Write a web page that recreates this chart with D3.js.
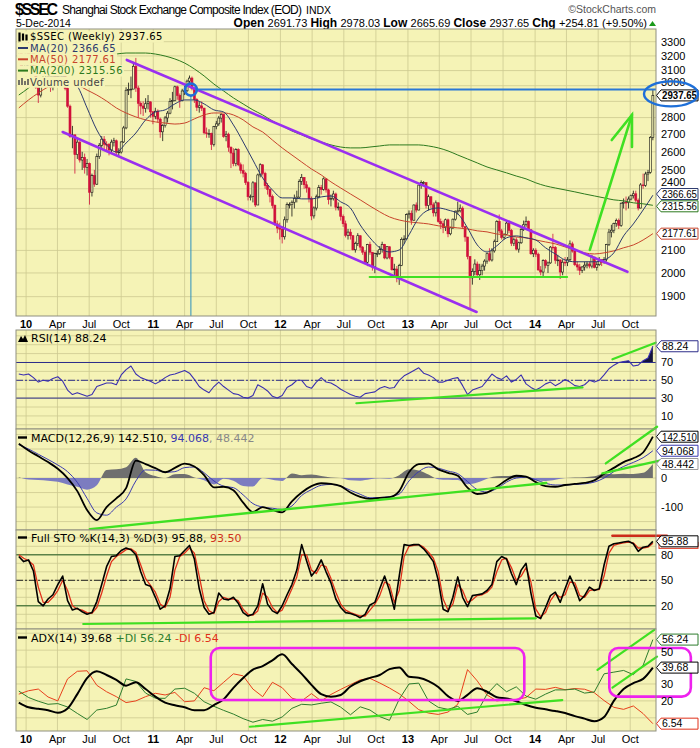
<!DOCTYPE html>
<html>
<head>
<meta charset="utf-8">
<script src="https://cdn.jsdelivr.net/npm/d3@7"></script>
<style>
  body { margin: 0; background: #ffffff; }
  svg { display: block; }
</style>
</head>
<body>
<svg id="chart" width="700" height="748"></svg>
<script>
// weekly $SSEC candles, 11-Dec-2009 .. 5-Dec-2014 (open taken as previous close)
const lastWeek = new Date(2014, 11, 5);
const firstOpen = 3240;
const closes = [3275,3114,3155,3277,
  3196,3224,3128,2989,2940,3018,3040,3051,3031,2988,3068,3060,3129,3131,3130,2983,2870,2688,2697,2584,2655,2554,2569,2514,2535,2382,2470,2424,2573,2637,2672,2643,2642,2610,2655,2663,2598,2599,2656,2738,2971,2975,2978,3129,2985,2888,2871,2857,2885,2897,2835,2808,
  2839,2791,2715,2752,2798,2827,2900,2905,2993,2937,2906,2966,2967,3030,3050,2983,2911,2863,2872,2858,2709,2705,2705,2642,2746,2762,2797,2820,2688,2701,2626,2593,2534,2612,2528,2497,2482,2433,2359,2359,2431,2317,2473,2528,2481,2416,2397,2360,2315,2224,2204,2199,
  2163,2244,2319,2319,2331,2351,2357,2439,2460,2421,2404,2349,2263,2302,2359,2406,2397,2452,2394,2344,2349,2373,2306,2307,2260,2225,2170,2185,2168,2103,2132,2168,2115,2092,2047,2127,2092,2026,2086,2086,2104,2128,2066,2117,2069,2014,2017,1980,2033,2151,2153,2269,
  2276,2242,2317,2292,2419,2432,2432,2314,2359,2318,2278,2328,2236,2225,2206,2244,2177,2205,2247,2286,2288,2301,2211,2162,2073,1979,2007,2039,1992,2010,2030,2052,2085,2057,2098,2140,2236,2191,2160,2174,2228,2193,2133,2149,2106,2135,2197,2220,2237,2196,2085,2101,
  2083,2013,2004,2054,2033,2044,2115,2113,2056,2057,2004,2047,2046,2058,2130,2097,2036,2026,2011,2026,2034,2039,2030,2070,2024,2036,2059,2047,2059,2127,2185,2194,2226,2240,2217,2326,2331,2329,2347,2364,2374,2341,2302,2420,2418,2478,2487,2683,2937.65];
const highs = [3300,3290,3170,3290,
  3306,3276,3240,3140,3050,3025,3060,3080,3100,3060,3080,3100,3140,3160,3181,3130,2990,2880,2750,2700,2680,2660,2600,2590,2560,2540,2480,2500,2590,2650,2690,2690,2660,2650,2670,2680,2670,2620,2660,2750,2990,3020,3060,3159,3186,3000,2900,2900,2920,2940,2900,2840,
  2860,2850,2800,2760,2810,2840,2920,2960,3000,3000,2950,2980,3000,3040,3067,3060,2990,2920,2900,2900,2860,2740,2730,2710,2750,2780,2810,2826,2820,2720,2710,2630,2620,2620,2620,2540,2530,2490,2440,2370,2440,2430,2480,2536,2530,2490,2430,2400,2370,2320,2240,2230,
  2210,2260,2330,2330,2340,2370,2390,2450,2478,2460,2440,2410,2360,2310,2370,2420,2420,2460,2453,2400,2370,2390,2380,2330,2310,2270,2240,2200,2200,2170,2140,2180,2170,2120,2100,2130,2140,2090,2090,2100,2120,2140,2130,2120,2110,2070,2040,2030,2040,2160,2170,2275,
  2290,2290,2320,2330,2420,2444,2440,2430,2370,2360,2330,2340,2330,2250,2240,2250,2250,2210,2250,2290,2334,2320,2310,2210,2150,2070,2020,2060,2050,2040,2040,2060,2090,2110,2110,2150,2242,2270,2200,2180,2240,2240,2200,2160,2160,2140,2210,2240,2260,2240,2200,2110,
  2110,2090,2030,2060,2060,2050,2120,2177,2120,2080,2060,2060,2070,2070,2146,2140,2100,2050,2040,2030,2050,2050,2050,2080,2070,2050,2070,2060,2070,2130,2200,2220,2230,2250,2250,2330,2350,2360,2360,2370,2390,2390,2350,2430,2480,2490,2500,2690,2978.03];
const lows = [3190,3100,3070,3150,
  3150,3100,3100,2980,2890,2925,3000,2990,3020,2960,2970,3020,3050,3090,3100,2970,2860,2680,2620,2480,2560,2540,2500,2480,2470,2319,2360,2410,2420,2560,2620,2610,2600,2580,2590,2630,2580,2570,2590,2650,2730,2940,2920,2980,2960,2800,2820,2810,2830,2850,2800,2760,
  2790,2770,2680,2661,2740,2770,2820,2850,2900,2910,2860,2900,2940,2960,3010,2970,2890,2840,2830,2840,2700,2680,2680,2610,2630,2730,2750,2770,2680,2660,2600,2510,2520,2520,2520,2480,2460,2420,2340,2340,2330,2307,2320,2460,2470,2400,2370,2330,2300,2215,2180,2150,
  2132,2150,2230,2300,2260,2300,2330,2350,2420,2400,2380,2330,2242,2250,2290,2350,2370,2390,2380,2320,2310,2340,2290,2290,2240,2210,2160,2150,2150,2100,2090,2120,2100,2080,2040,2030,2080,2010,1999,2070,2080,2090,2060,2060,2060,2010,1990,1960,1949,2030,2130,2150,
  2250,2220,2240,2280,2290,2400,2420,2300,2290,2300,2260,2260,2230,2200,2180,2190,2161,2170,2200,2240,2270,2280,2200,2140,2060,1849,1950,1990,1980,1970,1990,2010,2040,2050,2050,2090,2140,2180,2150,2150,2170,2180,2120,2120,2100,2090,2130,2190,2210,2190,2080,2070,
  2070,2010,1990,1984,2020,2000,2040,2100,2040,2030,1974,1990,2030,2030,2050,2090,2030,2010,1991,2000,2010,2020,2020,2020,2020,2010,2030,2030,2040,2050,2120,2160,2180,2210,2200,2210,2300,2290,2300,2340,2350,2330,2290,2300,2400,2410,2440,2480,2665.69];

// overlays and indicators read every 4 weeks
const ma20 = [3158,3131,3090,3064,3064,3050,2998,2859,2726,2639,2599,2650,2708,2786,2834,2847,2884,2909,2909,2884,2847,2834,2756,2656,2554,2457,2394,2353,2353,2348,2348,2358,2363,2333,2302,2219,2158,2112,2093,2102,2172,2253,2292,2302,2292,2273,2205,2125,2093,2121,2158,2167,2158,2148,2112,2084,2057,2049,2049,2049,2057,2089,2167,2224,2292,2366.65];
const ma50 = [2859,2909,2953,2992,3018,3024,3005,2972,2940,2902,2859,2828,2804,2786,2774,2767,2761,2767,2792,2816,2828,2828,2816,2786,2744,2714,2667,2622,2582,2543,2505,2473,2436,2404,2373,2343,2312,2283,2258,2243,2234,2229,2224,2215,2210,2205,2200,2191,2186,2176,2172,2162,2158,2148,2139,2130,2116,2102,2089,2084,2089,2098,2112,2125,2148,2177.61];
const ma200 = [2940,2985,3037,3084,3118,3145,3165,3186,3192,3206,3213,3220,3220,3220,3213,3199,3179,3151,3111,3064,3011,2966,2922,2884,2847,2816,2780,2750,2720,2697,2673,2656,2639,2627,2622,2622,2627,2633,2639,2639,2639,2639,2633,2622,2605,2582,2560,2538,2516,2500,2484,2467,2452,2431,2415,2404,2394,2384,2373,2363,2353,2343,2338,2328,2323,2315.56];
const macdLine = [118,95,75,55,32,0,-45,-110,-145,-100,-70,-35,60,48,34,20,35,50,40,10,-32,-30,-42,-85,-117,-100,-110,-118,-80,-50,-28,-18,-20,-28,-50,-65,-72,-68,-66,-45,20,48,50,30,18,8,-33,-55,-50,-30,-7,8,5,-14,-28,-30,-24,-20,-17,-8,15,35,55,68,88,142.51];
const macdSignal = [115,100,82,64,45,22,-15,-70,-120,-128,-100,-72,-10,28,27,20,22,36,38,18,-10,-28,-33,-58,-88,-100,-104,-108,-96,-60,-40,-25,-22,-28,-42,-56,-68,-67,-64,-55,-10,22,38,34,24,15,-12,-40,-48,-36,-14,0,3,-6,-18,-24,-24,-22,-20,-14,0,22,40,54,70,94.068];
const adx14 = [19,16.2,15.3,14.5,13,15.5,24,33.5,37.5,35.3,32.4,29,31,27,22.5,19,17.4,16.2,14.5,14.5,17.5,21,27.7,33.5,38.5,40.6,44,47.5,41.8,36,29.5,24,22.5,23.5,28.5,31.6,33.6,35.3,38.8,39.8,34.3,33.7,31.7,28.2,22.8,20,23.6,27.5,25.4,22.2,21.4,19.8,17.6,16,15,14,12.8,11,9.5,8,10.5,20,27,30.5,33,39.68];
const plusDI = [25.8,22,19.8,18,18.4,16.4,12.6,9,14.6,15.6,17.5,33,31.5,24.6,21.6,21.5,27,27.5,24.5,19.5,16.8,14.4,12.2,9.5,7.4,9,8,10.5,15.6,18,17.6,18.6,19.4,16.3,11.8,16.5,14.6,10.7,8.5,21,30,30.5,20,16.2,15,16.8,12,13.4,24,30.2,25.4,28.3,22.8,21,24,26.5,26.5,27,24.6,25.3,36,37,38,35.5,41,56.24];
const minusDI = [24,26,27,22.3,20,33,37.5,37.8,29.2,25.4,22.5,19,20,22.5,24.5,23.5,25,19.5,20,27.8,26,31,36,34.8,27,22.5,31,27.8,21.6,20,24.3,20,23.8,26.8,29.6,32.4,33.3,30.6,27.6,24.2,19.7,14.8,12.8,12,13.4,18,38.5,31.8,23.5,20,20.7,20.8,22,27,26.8,28,26.6,27.3,26.9,24.8,20.2,16.2,15,17,12.5,6.54];

// oscillators read every 2 weeks
const rsi14 = [57,56,57,53,48,50,49,52,54,49,39,34,36,34,32,34,43,45,47,47,45,56,62,66,57,53,51,49,46,49,53,56,57,59,61,58,51,43,39,36,43,48,43,39,35,34,31,30,33,45,42,38,32,30,33,42,45,50,50,43,41,48,53,48,47,44,40,37,34,32,31,35,36,37,41,43,41,42,50,55,58,61,64,58,56,53,48,48,50,52,53,44,34,39,41,43,50,57,53,51,55,48,51,56,46,42,39,42,46,48,44,47,51,48,44,43,45,50,48,50,56,63,67,70,71,72,66,67,72,75,88.24];
const stoK = [78,72,74,61,25,20,28,33,45,55,26,15,17,13,10,12,25,45,66,78,79,85,88,86,80,60,45,43,30,16,20,40,78,79,85,91,75,40,18,10,12,35,28,27,30,23,12,8,10,20,46,22,14,11,20,33,45,62,92,73,55,62,74,60,47,28,18,12,11,9,6,10,21,24,40,55,38,16,55,92,91,92,92,87,80,72,50,16,13,30,54,30,19,32,33,34,38,45,72,78,75,58,45,62,70,35,8,5,18,32,36,24,40,55,42,26,32,42,38,40,68,90,93,94,95,96,93,84,89,90,95.88];
const stoD = [80,76,73,68,42,24,24,30,38,50,38,20,16,15,12,11,18,35,55,72,78,82,86,87,83,68,52,44,36,22,18,30,62,78,82,88,82,55,26,14,11,25,30,28,28,26,16,10,9,14,35,30,18,12,15,27,40,54,80,80,62,58,68,66,52,36,22,15,12,10,8,8,15,22,32,48,45,24,38,78,90,91,92,89,83,76,60,28,15,22,45,38,24,27,32,33,36,42,60,74,76,65,50,55,65,48,16,7,12,26,34,30,33,48,47,32,30,38,39,39,55,82,91,93,94,95,94,88,88,89,93.5];

const priceTicks = [1900,2000,2100,2200,2300,2400,2500,2600,2700,2800,2900,3000,3100,3200,3300];
const rsiTicks = [10,30,50,70,90];
const macdTicks = [-100,0,100];
const stoTicks = [20,50,80];
const adxTicks = [10,20,30,40,50];
const monthNames = {3: "Apr", 6: "Jul", 9: "Oct"};

// hand-drawn annotations, [date, value]
const channelTop = [[new Date(2010,9,17),3172],[new Date(2014,8,23),2005]];
const channelBottom = [[new Date(2010,3,16),2714],[new Date(2013,6,17),1838]];
const support = [[new Date(2012,8,13),1983],[new Date(2014,3,3),1983]];
const breakDate = new Date(2011,3,19), breakLevel = 2975;
const arrowShaft = [[new Date(2014,5,7),2102],[new Date(2014,9,6),2816]];
const arrowHead = [[new Date(2014,7,9),2667],[new Date(2014,9,6),2816],[new Date(2014,9,6),2627]];
const rsiTrends = [[[new Date(2012,7,6),24.2],[new Date(2014,4,17),42.1]],[[new Date(2014,7,11),73.6],[new Date(2014,11,13),92.2]]];
const macdTrends = [[[new Date(2010,6,3),-176],[new Date(2014,1,2),-17]],[[new Date(2014,6,23),50.6],[new Date(2014,11,17),177]],[[new Date(2014,6,13),16],[new Date(2014,11,31),62]]];
const stoTrend = [[new Date(2010,5,14),-1.4],[new Date(2014,0,3),5.3]];
const stoTop = [[new Date(2014,7,11),102.5],[new Date(2015,0,14),102.5]];
const adxTrends = [[[new Date(2011,9,5),4.7],[new Date(2014,2,20),20.5]],[[new Date(2014,5,29),38.3],[new Date(2014,11,9),62]],[[new Date(2014,7,11),27.8],[new Date(2014,11,17),46.2]]];
const adxBoxes = [[new Date(2011,5,15),51.3,new Date(2013,11,1),20.5],[new Date(2014,7,2),51.3,new Date(2015,2,24),22.5]];

const svg = d3.select("#chart");
const L = 16, R = 656;
const bg = "#f5f3b6", gridC = "#cdc990";
const purple = "#9a2ef0", lime = "#3fe022", blue = "#2a78d6", magenta = "#ee22ee";
const sans = "'Liberation Sans', Arial, sans-serif", verd = "'DejaVu Sans', Verdana, sans-serif";

const x = d3.scaleTime().domain([new Date(2009,11,3), new Date(2014,11,14)]).range([L, R]);
const weekDates = closes.map((c, i) => d3.timeWeek.offset(lastWeek, i - closes.length + 1));
const every = arr => arr.map((v, i) => ({date: weekDates[Math.round(i * (closes.length - 1) / (arr.length - 1))], v}));
const quarters = d3.timeMonth.every(3).range(new Date(2010,0,1), new Date(2014,11,1));
const last = arr => arr[arr.length - 1];

const yP = d3.scaleLog().domain([1822, 3392]).range([316, 29]);
const yR = d3.scaleLinear().domain([-4.7, 106.5]).range([429, 330]);
const yM = d3.scaleLinear().domain([-179, 169]).range([530, 429]);
const yS = d3.scaleLinear().domain([-7.3, 109.2]).range([629, 530]);
const yA = d3.scaleLinear().domain([2.2, 62.5]).range([731, 629]);

function panel(id, y, grid) {
  const [y1, y0] = y.range();
  svg.append("rect").attr("x", L).attr("y", y0).attr("width", R - L).attr("height", y1 - y0).attr("fill", bg);
  svg.append("clipPath").attr("id", id).append("rect").attr("x", L).attr("y", y0).attr("width", R - L).attr("height", y1 - y0);
  const gg = svg.append("g").attr("stroke", gridC).attr("stroke-width", 0.8);
  gg.selectAll("line.v").data(quarters).join("line").attr("class", "v")
    .attr("x1", d => x(d)).attr("x2", d => x(d)).attr("y1", y0).attr("y2", y1);
  gg.selectAll("line.h").data(grid).join("line").attr("class", "h")
    .attr("x1", L).attr("x2", R).attr("y1", d => y(d)).attr("y2", d => y(d));
  return svg.append("g").attr("clip-path", `url(#${id})`);
}
function border(y) {
  const [y1, y0] = y.range();
  svg.append("rect").attr("x", L).attr("y", y0).attr("width", R - L).attr("height", y1 - y0)
    .attr("fill", "none").attr("stroke", "#8f8f80").attr("stroke-width", 1);
}
// tick labels sitting under a value tag are hidden, ones brushing a tag are nudged clear of it
function axisLabels(y, ticks, tagValues) {
  const items = [];
  ticks.forEach(t => {
    let pos = y(t), near = null;
    tagValues.forEach(v => { if (near === null || Math.abs(y(v) - pos) < Math.abs(near - pos)) near = y(v); });
    const dist = near === null ? 99 : Math.abs(near - pos);
    if (dist <= 6.2) return;
    if (dist < 13) pos += (pos < near ? -1 : 1) * (13 - dist);
    items.push({t, pos});
  });
  svg.append("g").selectAll("text").data(items).join("text")
    .attr("x", R + 5).attr("y", d => d.pos).attr("dy", "0.35em")
    .style("font-family", sans).style("font-size", "11px").text(d => d.t);
}
function seg(g, pts, y, color, w) {
  g.append("path").attr("d", d3.line().x(d => x(d[0])).y(d => y(d[1]))(pts))
    .attr("fill", "none").attr("stroke", color).attr("stroke-width", w).attr("stroke-linecap", "round");
}
function series(g, data, y, color, w, curve) {
  g.append("path").datum(data)
    .attr("d", d3.line().x(d => x(d.date)).y(d => y(d.v)).curve(curve || d3.curveLinear))
    .attr("fill", "none").attr("stroke", color).attr("stroke-width", w).attr("stroke-linejoin", "round");
}
function tag(yv, label, color, bold, shift) {
  const g = svg.append("g").attr("transform", `translate(${R},${yv + (shift || 0)})`);
  g.append("path").attr("d", "M0.5,0 L5,-5.5 L42,-5.5 L42,5.5 L5,5.5 Z")
    .attr("fill", "#fff").attr("stroke", color).attr("stroke-width", 1);
  const t = g.append("text").attr("x", 6).attr("y", 3.8).text(label)
    .style("font-family", sans).style("font-size", "10.5px").style("font-weight", bold ? "bold" : "normal");
  if (label.length >= 7) t.attr("textLength", 35).attr("lengthAdjust", "spacingAndGlyphs");
}
function dateRow(yBase) {
  svg.append("g").selectAll("text").data(quarters).join("text")
    .attr("x", d => x(d)).attr("y", yBase).attr("text-anchor", "middle")
    .style("font-family", sans).style("font-size", "11px")
    .style("font-weight", d => d.getMonth() === 0 ? "bold" : "normal")
    .text(d => d.getMonth() === 0 ? d3.timeFormat("%y")(d) : monthNames[d.getMonth()]);
}
function legendLine(g, xx, yy, label, color) {
  const t = g.append("text").attr("x", xx).attr("y", yy).attr("fill", color || "#000").text(label);
  const bb = t.node().getBBox();
  g.insert("rect", "text").attr("x", L + 1).attr("y", yy - 9).attr("width", bb.x + bb.width - L).attr("height", 11.3).attr("fill", bg);
}

// ---------- header ----------
svg.append("text").attr("x", 15).attr("y", 15).attr("textLength", 43)
  .style("font-family", sans).style("font-size", "16px").style("font-weight", "bold").text("$SSEC");
svg.append("text").attr("x", 62).attr("y", 14).attr("textLength", 240)
  .style("font-family", sans).style("font-size", "12px").text("Shanghai Stock Exchange Composite Index (EOD)");
svg.append("text").attr("x", 306).attr("y", 14)
  .style("font-family", sans).style("font-size", "10.5px").text("INDX");
svg.append("text").attr("x", 16).attr("y", 27)
  .style("font-family", sans).style("font-size", "10.5px").text("5-Dec-2014");
svg.append("text").attr("x", 656).attr("y", 13).attr("text-anchor", "end").attr("fill", "#555")
  .style("font-family", sans).style("font-size", "10.5px").text("\u00a9StockCharts.com");
const hdr = svg.append("text").attr("x", 647).attr("y", 27).attr("text-anchor", "end")
  .style("font-family", sans).style("font-size", "11px");
[["Open ", 1], ["2691.73  ", 0], ["High ", 1], ["2978.03  ", 0], ["Low ", 1], ["2665.69  ", 0],
 ["Close ", 1], ["2937.65  ", 0], ["Chg ", 1], ["+254.81 (+9.50%)", 0]].forEach(([t, b]) => {
  hdr.append("tspan").style("font-weight", b ? "bold" : "normal").style("font-size", b ? "12px" : "11px").text(t);
});
svg.append("path").attr("d", "M649,26 L652.5,21 L656,26 Z").attr("fill", "#1a9a1a");

// ---------- price panel ----------
const pg = panel("cp", yP, priceTicks);
const bars = closes.map((c, i) => ({date: weekDates[i], o: i ? closes[i - 1] : firstOpen, c, h: highs[i], l: lows[i]}));
const cg = pg.append("g").selectAll("g").data(bars).join("g");
const colorOf = d => d.c >= d.o ? "#111" : "#d0103a";
cg.append("line")
  .attr("x1", d => x(d.date)).attr("x2", d => x(d.date))
  .attr("y1", d => yP(Math.max(d.h, d.o, d.c))).attr("y2", d => yP(Math.min(d.l, d.o, d.c)))
  .attr("stroke", colorOf).attr("stroke-width", 0.8);
cg.append("rect")
  .attr("x", d => x(d.date) - 1).attr("width", 2)
  .attr("y", d => yP(Math.max(d.o, d.c)))
  .attr("height", d => Math.max(0.8, yP(Math.min(d.o, d.c)) - yP(Math.max(d.o, d.c))))
  .attr("fill", d => d.c >= d.o ? bg : "#d0103a").attr("stroke", colorOf).attr("stroke-width", 0.6);

series(pg, every(ma200), yP, "#2d7a1e", 1, d3.curveMonotoneX);
series(pg, every(ma50), yP, "#c8442c", 1, d3.curveMonotoneX);
series(pg, every(ma20), yP, "#2c3a6e", 1, d3.curveMonotoneX);

// legend (each line masks what lies under it)
const lg = svg.append("g").style("font-family", verd).style("font-size", "10px").style("letter-spacing", "0.4px");
legendLine(lg, 30, 40.3, "$SSEC (Weekly) 2937.65");
legendLine(lg, 30, 51.6, "MA(20) 2366.65", "#2c3a6e");
legendLine(lg, 30, 62.9, "MA(50) 2177.61", "#c8442c");
legendLine(lg, 30, 74.2, "MA(200) 2315.56", "#2d7a1e");
legendLine(lg, 30, 85.5, "Volume undef", "#444");
lg.append("path").attr("d", "M19.5,32.5v9M23,33.5v7M26.5,34.5v6").attr("stroke", "#000").attr("stroke-width", 2.2);
[["#2c3a6e", 48], ["#c8442c", 59.3], ["#2d7a1e", 70.6]].forEach(([c, yy]) =>
  lg.append("line").attr("x1", 18).attr("x2", 28).attr("y1", yy).attr("y2", yy).attr("stroke", c).attr("stroke-width", 2));
lg.append("path").attr("d", "M19,85v-5M22,85v-7M25,85v-4M28,85v-6").attr("stroke", "#555").attr("stroke-width", 1.6);

const ann = svg.append("g");
seg(ann, channelTop, yP, purple, 2.6);
seg(ann, channelBottom, yP, purple, 2.6);
seg(ann, support, yP, lime, 2);
ann.append("line").attr("x1", x(breakDate)).attr("x2", x(breakDate))
  .attr("y1", yP(breakLevel) + 6).attr("y2", yP.range()[0]).attr("stroke", "#2a8fc0").attr("stroke-width", 1);
ann.append("line").attr("x1", x(breakDate) + 6).attr("x2", R)
  .attr("y1", yP(breakLevel)).attr("y2", yP(breakLevel)).attr("stroke", blue).attr("stroke-width", 2);
ann.append("circle").attr("cx", x(breakDate)).attr("cy", yP(breakLevel)).attr("r", 6)
  .attr("fill", "none").attr("stroke", "#1e6fd8").attr("stroke-width", 2.6);
seg(ann, arrowShaft, yP, lime, 2.6);
seg(ann, arrowHead, yP, lime, 2.6);
border(yP);

axisLabels(yP, priceTicks, [last(closes), last(ma20), last(ma50), last(ma200)]);
dateRow(328);

// ---------- RSI ----------
const rg = panel("cr", yR, d3.range(0, 101, 10));
const rsiData = every(rsi14);
rg.append("clipPath").attr("id", "rsiHi").append("rect").attr("x", L).attr("y", 330).attr("width", R - L).attr("height", yR(70) - 330);
rg.append("clipPath").attr("id", "rsiLo").append("rect").attr("x", L).attr("y", yR(30)).attr("width", R - L).attr("height", 429 - yR(30));
rg.append("path").datum(rsiData).attr("clip-path", "url(#rsiHi)").attr("fill", "#14143c")
  .attr("d", d3.area().x(d => x(d.date)).y0(yR(70)).y1(d => yR(d.v)));
rg.append("path").datum(rsiData).attr("clip-path", "url(#rsiLo)").attr("fill", "#14143c")
  .attr("d", d3.area().x(d => x(d.date)).y0(yR(30)).y1(d => yR(d.v)));
[70, 30].forEach(v => rg.append("line").attr("x1", L).attr("x2", R).attr("y1", yR(v)).attr("y2", yR(v)).attr("stroke", "#2e2e8a").attr("stroke-width", 1));
rg.append("line").attr("x1", L).attr("x2", R).attr("y1", yR(50)).attr("y2", yR(50))
  .attr("stroke", "#2e2e8a").attr("stroke-width", 1).attr("stroke-dasharray", "7,2,2,2");
series(rg, rsiData, yR, "#3a2fb0", 1.1);
rsiTrends.forEach(t => seg(svg, t, yR, lime, 2.2));
border(yR);
axisLabels(yR, rsiTicks, [last(rsi14)]);
svg.append("path").attr("d", "M18,342 L21,336 L23,339 L25,335 L28,342 Z").attr("fill", "#000");
svg.append("text").attr("x", 31).attr("y", 341.5).style("font-family", verd).style("font-size", "11px").text("RSI(14) 88.24");

// ---------- MACD ----------
const mg = panel("cm", yM, d3.range(-150, 151, 50));
const macdData = every(macdLine), sigData = every(macdSignal);
const histData = macdLine.map((v, i) => v - macdSignal[i]);
mg.append("clipPath").attr("id", "hPos").append("rect").attr("x", L).attr("y", 429).attr("width", R - L).attr("height", yM(0) - 429);
mg.append("clipPath").attr("id", "hNeg").append("rect").attr("x", L).attr("y", yM(0)).attr("width", R - L).attr("height", 530 - yM(0));
const harea = d3.area().x(d => x(d.date)).y0(yM(0)).y1(d => yM(d.v)).curve(d3.curveMonotoneX);
mg.append("path").datum(every(histData)).attr("clip-path", "url(#hPos)").attr("fill", "#6f6f6f").attr("d", harea);
mg.append("path").datum(every(histData)).attr("clip-path", "url(#hNeg)").attr("fill", "#7c7cc0").attr("d", harea);
series(mg, sigData, yM, "#3a3ab0", 1, d3.curveMonotoneX);
series(mg, macdData, yM, "#000", 1.8, d3.curveMonotoneX);
macdTrends.forEach(t => seg(svg, t, yM, lime, 2.4));
border(yM);
axisLabels(yM, macdTicks, [last(macdLine), last(macdSignal), last(histData)]);
const mt = svg.append("text").attr("x", 31).attr("y", 441.5).style("font-family", verd).style("font-size", "11px");
mt.append("tspan").text("MACD(12,26,9) 142.510, ");
mt.append("tspan").attr("fill", "#3a3ab0").text("94.068");
mt.append("tspan").attr("fill", "#888").text(", 48.442");
svg.append("line").attr("x1", 18).attr("x2", 27).attr("y1", 437.5).attr("y2", 437.5).attr("stroke", "#000").attr("stroke-width", 2.4);

// ---------- Full STO ----------
const sg = panel("cs", yS, d3.range(0, 101, 10));
[80, 20].forEach(v => sg.append("line").attr("x1", L).attr("x2", R).attr("y1", yS(v)).attr("y2", yS(v)).attr("stroke", "#1f5a1f").attr("stroke-width", 1));
sg.append("line").attr("x1", L).attr("x2", R).attr("y1", yS(50)).attr("y2", yS(50))
  .attr("stroke", "#222").attr("stroke-width", 1).attr("stroke-dasharray", "7,2,2,2");
series(sg, every(stoD), yS, "#e0301a", 1.3);
series(sg, every(stoK), yS, "#000", 1.6);
seg(svg, stoTrend, yS, lime, 2.2);
seg(svg, stoTop, yS, "#cc2a1a", 2.6);
border(yS);
axisLabels(yS, stoTicks, [last(stoK)]);
const st = svg.append("text").attr("x", 31).attr("y", 541.5).style("font-family", verd).style("font-size", "11px");
st.append("tspan").text("Full STO %K(14,3) %D(3) 95.88, ");
st.append("tspan").attr("fill", "#d0301a").text("93.50");
svg.append("line").attr("x1", 18).attr("x2", 27).attr("y1", 537.5).attr("y2", 537.5).attr("stroke", "#000").attr("stroke-width", 2.4);

// ---------- ADX ----------
const ag = panel("ca", yA, d3.range(10, 61, 10));
series(ag, every(minusDI), yA, "#e8401c", 1);
series(ag, every(plusDI), yA, "#2d7d2d", 1);
series(ag, every(adx14), yA, "#000", 2, d3.curveMonotoneX);
adxTrends.forEach(t => seg(svg, t, yA, lime, 2.2));
adxBoxes.forEach(([d0, v0, d1, v1]) => {
  svg.append("rect").attr("x", x(d0)).attr("y", yA(v0)).attr("width", x(d1) - x(d0)).attr("height", yA(v1) - yA(v0))
    .attr("rx", 9).attr("fill", "none").attr("stroke", magenta).attr("stroke-width", 2.6);
});
border(yA);
axisLabels(yA, adxTicks, [last(adx14), last(plusDI), last(minusDI)]);
const at = svg.append("text").attr("x", 31).attr("y", 641.5).style("font-family", verd).style("font-size", "11px");
at.append("tspan").text("ADX(14) 39.68 ");
at.append("tspan").attr("fill", "#2d7d2d").text("+DI 56.24 ");
at.append("tspan").attr("fill", "#e0301a").text("-DI 6.54");
svg.append("line").attr("x1", 18).attr("x2", 27).attr("y1", 637.5).attr("y2", 637.5).attr("stroke", "#000").attr("stroke-width", 2.4);
dateRow(743);

// ---------- value tags ----------
tag(yP(last(ma50)), "2177.61", "#c8442c");
tag(yP(last(ma200)), "2315.56", "#2d7a1e", false, 1);
tag(yP(last(ma20)), "2366.65", "#2c3a6e", false, -1.2);
tag(yP(last(closes)), "2937.65", "#000", true);
svg.append("ellipse").attr("cx", R + 15).attr("cy", yP(last(closes)) - 1.5)
  .attr("rx", 27).attr("ry", 12.5).attr("fill", "none").attr("stroke", "#1e6fd8").attr("stroke-width", 2.4);
tag(yR(last(rsi14)), "88.24", "#2e2e8a");
tag(yM(last(histData)), "48.442", "#999");
tag(yM(last(macdSignal)), "94.068", "#3a3ab0");
tag(yM(last(macdLine)), "142.510", "#000");
svg.append("rect").attr("x", R + 3).attr("y", yS(93.5) - 1).attr("width", 39).attr("height", 6).attr("fill", "#fff").attr("stroke", "#e0301a");
tag(yS(last(stoK)), "95.88", "#000");
tag(yA(last(minusDI)), "6.54", "#e0301a");
tag(yA(last(adx14)), "39.68", "#000");
tag(yA(last(plusDI)), "56.24", "#2d7d2d");
</script>
</body>
</html>
